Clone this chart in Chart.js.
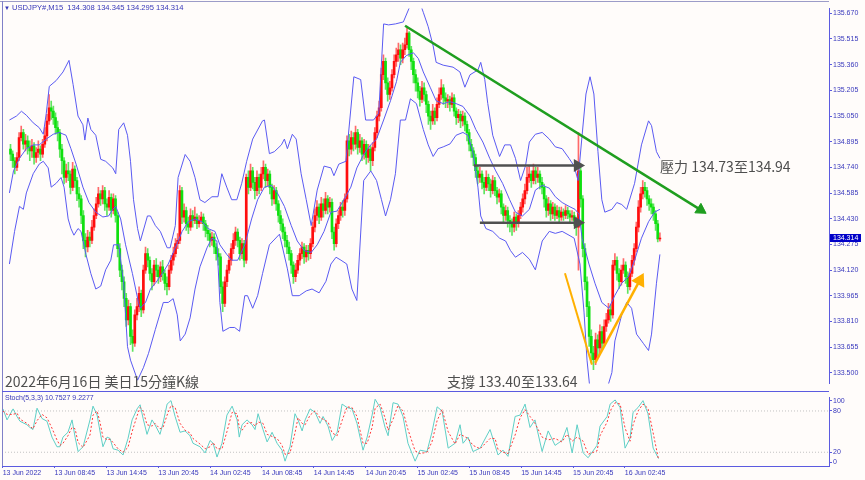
<!DOCTYPE html>
<html><head><meta charset="utf-8">
<script src="https://cdn.jsdelivr.net/npm/chart.js@4.4.0/dist/chart.umd.min.js"></script>
<style>
html,body{margin:0;padding:0;background:#fffcfa;}
#wrap{position:relative;width:865px;height:480px;overflow:hidden;background:#fffcfa;}
canvas{position:absolute;left:0;}
#c1{top:0;}
#c2{top:392px;}
.ln{position:absolute;background:#5b5be0;}
.lbl{position:absolute;white-space:nowrap;font-family:"Liberation Sans",Arial,sans-serif;color:#3636b8;line-height:1;z-index:5;}
.ann{position:absolute;white-space:nowrap;font-family:"Noto Sans CJK TC","Noto Sans",sans-serif;font-size:14px;line-height:14px;color:#4e4e4e;z-index:5;}
</style></head>
<body>
<div id="wrap">
<canvas id="c1" width="865" height="392"></canvas>
<canvas id="c2" width="865" height="88"></canvas>
<div class="ln" style="left:0;top:1px;width:829px;height:1px;background:#9c9cc8"></div>
<div class="ln" style="left:2px;top:1px;width:1px;height:465px;background:#8080c8"></div>
<div class="ln" style="left:2px;top:391px;width:827px;height:1px;"></div>
<div class="lbl" style="left:4px;top:4px;font-size:7.6px;"><span style="font-size:6px">▼</span> USDJPY#,M15&nbsp; 134.308 134.345 134.295 134.314</div>
<div class="lbl" style="left:5px;top:394px;font-size:7px;">Stoch(5,3,3) 10.7527 9.2277</div>
<div class="ann" style="left:660px;top:159px">壓力 134.73至134.94</div>
<div class="ann" style="left:447px;top:374px">支撐 133.40至133.64</div>
<div class="ann" style="left:5px;top:374px">2022年6月16日 美日15分鐘K線</div>
</div>
<script>
// ---------- data ----------
const firstOpen = 134.85;
const closes = [134.82,134.78,134.74,134.80,134.92,134.95,134.88,134.90,134.86,134.84,
134.87,134.80,134.83,134.85,134.82,134.88,134.93,135.02,135.10,135.08,
135.04,134.98,134.95,134.85,134.78,134.68,134.72,134.70,134.62,134.73,
134.66,134.58,134.55,134.45,134.30,134.26,134.32,134.30,134.38,134.45,
134.52,134.58,134.55,134.60,134.52,134.50,134.56,134.48,134.55,134.45,
134.25,134.12,134.05,133.95,133.82,133.90,133.72,133.68,133.85,133.90,
133.98,133.88,134.12,134.22,134.18,134.10,134.05,134.15,134.12,134.08,
134.14,134.10,134.04,134.02,134.12,134.18,134.22,134.28,134.30,134.60,
134.44,134.48,134.40,134.38,134.45,134.42,134.44,134.40,134.42,134.44,
134.40,134.36,134.34,134.30,134.32,134.26,134.22,134.20,134.02,133.92,
134.05,134.12,134.18,134.25,134.30,134.35,134.30,134.22,134.28,134.18,
134.68,134.62,134.72,134.65,134.60,134.68,134.62,134.70,134.74,134.66,
134.70,134.62,134.55,134.60,134.52,134.45,134.40,134.35,134.30,134.26,
134.22,134.15,134.08,134.12,134.18,134.22,134.26,134.20,134.24,134.22,
134.28,134.38,134.45,134.50,134.44,134.52,134.48,134.55,134.50,134.53,
134.35,134.28,134.40,134.45,134.50,134.48,134.55,134.90,134.85,134.92,
134.88,134.95,134.86,134.90,134.82,134.88,134.80,134.85,134.78,134.86,
134.95,135.05,135.10,135.30,135.38,135.25,135.18,135.22,135.30,135.38,
135.42,135.45,135.40,135.45,135.48,135.55,135.45,135.38,135.30,135.25,
135.20,135.15,135.22,135.18,135.12,135.05,135.02,135.08,135.04,135.12,
135.18,135.22,135.16,135.14,135.15,135.12,135.16,135.08,135.04,135.06,
135.02,135.05,135.00,134.95,134.88,134.84,134.80,134.72,134.68,134.70,
134.65,134.62,134.68,134.64,134.60,134.66,134.60,134.56,134.58,134.50,
134.45,134.48,134.42,134.40,134.38,134.44,134.40,134.45,134.50,134.55,
134.60,134.68,134.70,134.66,134.72,134.68,134.70,134.65,134.62,134.55,
134.48,134.52,134.46,134.50,134.45,134.48,134.44,134.47,134.45,134.48,
134.46,134.44,134.45,134.42,134.38,134.72,134.55,134.25,134.05,133.90,
133.72,133.62,133.58,133.70,133.65,133.75,133.68,133.78,133.82,133.88,
133.85,134.15,134.18,134.10,134.05,134.12,134.15,134.08,134.02,134.10,
134.18,134.25,134.38,134.50,134.58,134.62,134.60,134.55,134.52,134.50,
134.46,134.40,134.308,134.314];
const highs = [134.88,134.84,134.80,134.83,134.95,134.99,134.97,134.94,134.93,134.90,
134.91,134.89,134.86,134.90,134.87,134.91,134.98,135.06,135.18,135.14,
135.11,135.07,135.02,134.97,134.88,134.80,134.76,134.77,134.72,134.77,
134.75,134.68,134.62,134.57,134.48,134.34,134.36,134.35,134.42,134.49,
134.56,134.62,134.60,134.63,134.62,134.55,134.60,134.58,134.58,134.57,
134.47,134.28,134.15,134.08,133.98,133.94,133.92,133.76,133.88,133.95,
134.02,134.00,134.15,134.26,134.25,134.20,134.13,134.18,134.19,134.15,
134.17,134.18,134.12,134.08,134.15,134.21,134.26,134.31,134.34,134.63,
134.62,134.52,134.50,134.44,134.49,134.48,134.50,134.46,134.45,134.47,
134.46,134.42,134.39,134.36,134.35,134.34,134.28,134.25,134.22,134.05,
134.08,134.15,134.22,134.28,134.34,134.38,134.37,134.32,134.31,134.30,
134.70,134.72,134.76,134.74,134.68,134.72,134.70,134.74,134.78,134.76,
134.73,134.72,134.64,134.63,134.62,134.54,134.48,134.43,134.38,134.33,
134.29,134.24,134.17,134.16,134.21,134.25,134.29,134.28,134.27,134.27,
134.31,134.41,134.49,134.54,134.52,134.56,134.55,134.59,134.57,134.56,
134.55,134.38,134.43,134.48,134.53,134.54,134.58,134.93,134.94,134.96,
134.95,134.99,134.97,134.94,134.92,134.91,134.90,134.88,134.87,134.89,
134.98,135.08,135.14,135.34,135.42,135.40,135.28,135.26,135.33,135.42,
135.46,135.49,135.48,135.49,135.52,135.58,135.56,135.47,135.40,135.33,
135.28,135.23,135.26,135.25,135.20,135.14,135.08,135.12,135.10,135.16,
135.22,135.27,135.24,135.19,135.18,135.17,135.19,135.18,135.10,135.09,
135.08,135.08,135.07,135.02,134.97,134.91,134.86,134.82,134.75,134.74,
134.72,134.68,134.72,134.70,134.67,134.69,134.68,134.62,134.61,134.60,
134.52,134.51,134.50,134.45,134.43,134.47,134.46,134.48,134.53,134.58,
134.64,134.74,134.75,134.72,134.76,134.74,134.74,134.72,134.68,134.64,
134.57,134.56,134.54,134.53,134.52,134.51,134.50,134.50,134.49,134.51,
134.50,134.48,134.48,134.47,134.44,134.95,134.76,134.57,134.28,134.08,
133.93,133.76,133.66,133.74,133.73,133.79,133.78,133.82,133.86,133.92,
133.91,134.18,134.22,134.20,134.13,134.15,134.19,134.17,134.11,134.13,
134.21,134.28,134.41,134.54,134.62,134.66,134.65,134.62,134.57,134.55,
134.52,134.48,134.42,134.345];
const lows = [134.78,134.74,134.70,134.72,134.78,134.90,134.85,134.84,134.82,134.78,
134.80,134.76,134.77,134.80,134.78,134.80,134.86,134.90,135.00,135.03,
135.00,134.94,134.90,134.80,134.70,134.64,134.65,134.66,134.58,134.60,
134.62,134.54,134.50,134.40,134.25,134.20,134.23,134.26,134.28,134.36,
134.43,134.50,134.51,134.52,134.48,134.45,134.48,134.44,134.46,134.41,
134.20,134.08,134.00,133.90,133.78,133.79,133.67,133.63,133.66,133.82,
133.87,133.84,133.86,134.10,134.14,134.06,134.00,134.03,134.08,134.04,
134.05,134.06,134.00,133.97,134.00,134.10,134.15,134.20,134.25,134.28,
134.40,134.41,134.36,134.34,134.36,134.38,134.40,134.37,134.38,134.40,
134.36,134.32,134.30,134.26,134.27,134.22,134.18,134.15,133.98,133.87,
133.90,134.02,134.10,134.15,134.22,134.27,134.26,134.18,134.19,134.14,
134.16,134.58,134.60,134.61,134.55,134.57,134.58,134.60,134.67,134.62,
134.63,134.58,134.51,134.52,134.48,134.41,134.36,134.31,134.26,134.22,
134.18,134.10,134.04,134.05,134.10,134.15,134.19,134.16,134.17,134.18,
134.19,134.26,134.35,134.42,134.40,134.42,134.44,134.46,134.46,134.47,
134.31,134.24,134.26,134.37,134.42,134.44,134.45,134.53,134.81,134.82,
134.84,134.85,134.82,134.83,134.78,134.79,134.76,134.77,134.72,134.75,
134.84,134.92,135.02,135.08,135.27,135.21,135.14,135.15,135.20,135.28,
135.35,135.38,135.36,135.37,135.42,135.46,135.41,135.33,135.25,135.20,
135.16,135.11,135.13,135.14,135.07,135.00,134.97,135.00,135.00,135.02,
135.10,135.15,135.12,135.10,135.10,135.08,135.10,135.05,135.00,135.01,
134.98,134.99,134.96,134.90,134.84,134.80,134.75,134.68,134.64,134.65,
134.61,134.58,134.60,134.60,134.56,134.58,134.57,134.52,134.53,134.46,
134.40,134.42,134.38,134.35,134.33,134.35,134.36,134.38,134.43,134.47,
134.52,134.58,134.65,134.62,134.64,134.64,134.65,134.61,134.58,134.50,
134.44,134.45,134.42,134.43,134.42,134.43,134.41,134.42,134.42,134.43,
134.43,134.41,134.42,134.39,134.33,134.12,134.50,134.20,134.00,133.84,
133.66,133.56,133.52,133.55,133.60,133.62,133.64,133.66,133.75,133.80,
133.81,133.83,134.12,134.06,134.01,134.03,134.10,134.04,133.98,134.00,
134.08,134.15,134.23,134.35,134.47,134.55,134.56,134.51,134.48,134.46,
134.42,134.36,134.29,134.295];

// band lines: [bar index, price]
const upperBand = [[-0.5,135.026],[2.8,135.050],[5.1,135.079],[7.4,135.055],[10.6,135.009],[13.4,134.980],[15.3,134.940],[16.7,135.067],[18.1,135.229],[21.3,135.264],[24.5,135.316],[27.3,135.386],[29.2,135.241],[31.5,135.050],[33.8,134.997],[34.7,134.905],[36.1,135.038],[37.5,134.969],[39.8,134.934],[42.1,134.789],[44.4,134.777],[47.7,134.737],[49.1,134.702],[50.5,134.969],[52.8,135.009],[54.6,134.934],[56.0,134.777],[57.4,134.545],[59.3,134.371],[60.6,134.296],[63.9,134.447],[65.3,134.447],[67.6,134.389],[69.9,134.354],[73.1,134.255],[74.5,134.255],[76.9,134.389],[78.2,134.679],[81.5,134.818],[83.8,134.777],[86.1,134.679],[88.4,134.545],[90.7,134.528],[94.0,134.563],[96.8,134.563],[98.6,134.702],[100.9,134.621],[103.2,134.545],[105.6,134.545],[107.9,134.644],[110.2,134.777],[113.0,134.911],[117.6,135.021],[118.5,135.026],[120.8,134.823],[123.1,134.835],[126.4,134.876],[127.8,134.911],[129.2,134.853],[131.5,134.940],[133.3,134.911],[135.6,134.702],[138.0,134.545],[140.3,134.389],[143.1,134.603],[146.3,134.748],[149.5,134.737],[150.9,134.690],[153.2,134.760],[156.5,134.777],[160.2,135.287],[163.4,135.270],[165.7,135.026],[169.4,135.026],[171.8,135.067],[174.1,135.606],[176.4,135.600],[179.6,135.606],[183.3,135.618],[186.6,135.720],[190.3,135.760],[192.6,135.676],[194.9,135.589],[197.2,135.473],[198.6,135.374],[201.9,135.357],[206.5,135.345],[209.7,135.316],[212.0,135.224],[214.4,135.299],[218.1,135.328],[219.4,135.374],[221.3,135.270],[222.7,135.125],[225.0,134.934],[228.2,134.806],[230.6,134.876],[233.3,134.876],[235.6,134.795],[238.0,134.661],[240.3,134.750],[242.1,134.893],[244.9,134.940],[248.1,134.951],[251.4,134.911],[254.2,134.864],[257.4,134.853],[260.6,134.795],[263.0,134.748],[264.8,134.661],[266.7,134.934],[268.5,135.183],[270.4,135.287],[272.2,135.183],[274.1,134.835],[275.9,134.545],[277.3,134.470],[280.6,134.487],[282.9,134.528],[285.2,134.516],[287.5,134.487],[291.2,134.644],[294.4,134.876],[297.7,135.021],[299.1,134.992],[301.4,134.835],[303.0,134.795]];
const middleBand = [[-0.5,134.586],[1.4,134.719],[4.2,134.795],[7.4,134.853],[10.6,134.876],[13.4,134.876],[16.7,134.911],[19.9,134.940],[22.7,134.951],[25.9,134.934],[28.2,134.853],[30.6,134.760],[33.8,134.621],[36.6,134.528],[39.8,134.470],[43.1,134.441],[45.8,134.447],[47.7,134.487],[49.1,134.505],[51.4,134.429],[53.7,134.273],[56.9,134.099],[59.7,133.925],[60.6,133.890],[63.0,133.925],[65.3,134.006],[67.6,134.041],[70.8,134.099],[73.6,134.157],[76.9,134.255],[80.1,134.354],[82.9,134.412],[86.1,134.429],[89.4,134.412],[92.1,134.371],[95.4,134.354],[97.7,134.273],[100.9,134.215],[103.2,134.180],[106.0,134.180],[109.3,134.273],[112.5,134.429],[115.3,134.545],[118.5,134.621],[121.8,134.632],[124.5,134.586],[127.8,134.505],[131.0,134.389],[133.8,134.296],[137.0,134.238],[140.3,134.227],[143.1,134.273],[146.3,134.354],[149.5,134.470],[152.3,134.476],[155.6,134.545],[158.8,134.621],[161.6,134.737],[164.8,134.818],[168.1,134.876],[170.8,134.911],[174.1,135.026],[177.3,135.142],[180.1,135.258],[181.9,135.374],[184.7,135.415],[188.0,135.432],[190.3,135.397],[192.6,135.316],[195.8,135.224],[198.6,135.142],[201.9,135.125],[205.1,135.137],[207.9,135.125],[211.1,135.108],[214.4,135.050],[217.1,134.969],[220.4,134.893],[223.6,134.795],[226.4,134.719],[229.6,134.644],[232.9,134.545],[235.6,134.470],[238.9,134.447],[242.1,134.487],[244.9,134.603],[248.1,134.632],[251.4,134.615],[254.2,134.563],[257.4,134.528],[260.6,134.505],[263.4,134.487],[265.3,134.458],[266.7,134.313],[269.9,134.157],[272.7,134.041],[275.9,133.925],[279.2,133.890],[281.9,133.966],[285.2,134.041],[288.4,134.082],[291.2,134.180],[294.4,134.313],[297.7,134.412],[300.5,134.470],[303.0,134.487]];
const lowerBand = [[-0.5,134.157],[1.9,134.354],[4.2,134.505],[6.0,134.487],[7.4,134.586],[10.6,134.702],[13.4,134.760],[15.3,134.777],[17.6,134.737],[19.0,134.621],[21.3,134.644],[23.6,134.679],[25.0,134.621],[26.9,134.429],[28.2,134.371],[29.6,134.331],[31.5,134.371],[32.9,134.354],[35.2,134.215],[37.5,134.099],[39.8,134.006],[42.1,134.024],[44.4,134.122],[46.8,134.180],[48.1,134.273],[50.5,134.273],[52.8,134.041],[54.6,133.658],[56.0,133.577],[59.3,133.456],[62.0,133.531],[64.4,133.618],[67.6,133.763],[71.3,133.925],[73.6,133.925],[75.9,133.948],[77.8,133.850],[79.2,133.693],[81.5,133.734],[83.8,133.832],[86.1,134.006],[88.4,134.140],[91.7,134.255],[94.0,134.313],[96.3,134.296],[97.7,133.925],[99.1,133.751],[102.3,133.774],[104.6,133.774],[106.9,133.751],[109.3,133.966],[110.6,133.966],[113.0,133.890],[115.3,133.966],[117.6,134.099],[120.8,134.273],[125.5,134.337],[129.2,134.128],[131.5,133.966],[134.7,133.966],[138.0,133.995],[140.7,134.006],[144.0,133.983],[147.2,134.053],[149.5,134.157],[151.9,134.198],[154.2,134.180],[156.9,134.157],[159.3,134.006],[161.6,133.937],[164.8,134.661],[168.1,134.719],[170.8,134.661],[173.1,134.545],[175.0,134.447],[177.3,134.545],[179.6,134.702],[181.9,135.026],[184.3,135.026],[186.6,135.154],[189.4,135.125],[192.6,134.969],[194.9,134.876],[197.2,134.806],[199.5,134.853],[201.9,134.864],[205.1,134.882],[207.9,134.934],[211.1,134.951],[213.4,134.934],[215.7,134.835],[218.1,134.621],[219.4,134.447],[221.8,134.371],[225.0,134.354],[228.2,134.313],[231.0,134.296],[233.3,134.238],[235.6,134.198],[238.9,134.227],[242.1,134.186],[244.9,134.122],[248.1,134.296],[251.4,134.354],[254.2,134.342],[257.4,134.354],[260.6,134.331],[263.0,134.313],[265.7,134.157],[267.6,133.867],[269.0,133.577],[270.4,133.398],[278.2,133.398],[280.6,133.502],[282.0,133.693],[285.2,133.850],[287.5,133.925],[289.8,133.890],[292.1,133.734],[295.4,133.676],[297.7,133.635],[299.1,133.734],[301.4,134.041],[303.0,134.215]];

// stochastic %K / %D (bar index positions)
const stochX = [-0.5,1.4,4.2,6.0,7.4,10.6,12.0,13.4,15.3,17.6,19.9,22.2,24.5,25.9,27.3,29.6,31.5,32.9,34.3,36.6,39.8,41.2,43.1,44.4,45.8,47.7,49.1,50.5,52.8,55.1,57.4,59.3,61.6,63.0,64.4,66.2,68.5,69.9,72.2,73.6,75.5,77.3,79.2,81.5,83.8,86.1,87.5,90.7,93.1,95.4,96.8,98.6,100.9,103.2,105.6,107.9,108.9,110.2,112.5,114.8,116.2,117.6,119.9,121.8,124.1,126.4,128.7,130.1,132.4,134.7,136.1,138.0,139.4,141.7,144.0,146.3,147.7,150.0,151.9,154.2,156.5,158.8,161.1,163.4,164.8,166.2,168.1,170.4,171.8,174.1,176.4,177.8,180.1,182.4,184.7,187.0,190.3,192.6,195.8,198.1,200.5,202.8,205.6,208.8,211.1,212.5,214.8,217.1,220.4,225.0,227.3,228.7,231.0,233.3,236.6,238.9,241.2,243.5,245.8,249.1,251.9,255.1,258.3,260.6,263.0,265.3,268.1,270.4,274.5,275.9,279.2,280.6,282.9,285.2,287.5,289.8,291.2,293.5,295.8,298.1,300.5,303.0];
const stochK = [83,67,83,72,65,60,56,53,84,69,65,42,28,28,42,49,67,42,21,28,67,87,74,51,28,42,40,25,23,16,40,67,83,89,69,46,67,60,46,62,90,95,72,49,51,44,33,28,19,37,33,13,33,74,87,67,42,60,67,60,53,76,53,35,49,33,23,7,28,76,67,51,67,83,78,62,72,58,37,49,90,85,83,62,42,23,42,74,97,85,56,44,92,90,72,33,7,23,21,49,86,80,26,33,60,33,42,21,26,53,30,16,23,14,72,74,90,56,67,21,51,30,37,56,19,60,19,12,30,58,72,90,96,85,26,40,78,85,95,76,26,10.7527];
const stochD = [80,75,75,77,68,62,58,54,66,75,70,55,38,30,33,44,56,54,34,27,45,74,80,64,42,38,39,34,25,20,27,50,73,85,80,60,58,62,54,56,74,88,85,62,52,48,40,32,25,28,34,25,25,50,78,76,56,52,62,63,58,64,62,46,43,40,30,17,19,48,70,62,60,74,80,70,68,64,48,44,66,86,85,72,52,33,33,56,84,90,70,52,68,88,80,53,22,18,20,35,66,82,50,32,46,44,40,30,25,40,40,24,20,18,45,70,82,72,62,42,38,40,35,46,36,42,36,17,22,44,64,80,92,90,55,36,60,80,90,84,48,9.2277];
const stochLevels = [20, 80];

// drawn lines [bar index, price]
const greenTrend = [[184.1,135.595],[322.0,134.484]];
const resistArrow = [[216.2,134.752],[264.6,134.752]];
const supportArrow = [[219.0,134.406],[264.6,134.406]];
const orangeLeft = [[258.7,134.101],[271.3,133.550]];
const orangeRight = [[272.8,133.560],[293.6,134.058]];

// axes
const priceTicks = [135.670,135.515,135.360,135.205,135.050,134.895,134.740,134.585,134.430,134.275,134.120,133.965,133.810,133.655,133.500];
const timeTickPos = [-0.6,23.4,47.4,71.4,95.4,119.4,143.4,167.4,191.4,215.4,239.4,263.4,287.4];
const timeLabels = ['13 Jun 2022','13 Jun 08:45','13 Jun 14:45','13 Jun 20:45','14 Jun 02:45','14 Jun 08:45','14 Jun 14:45','14 Jun 20:45','15 Jun 02:45','15 Jun 08:45','15 Jun 14:45','15 Jun 20:45','16 Jun 02:45'];
const stochTickPos = [5.4, 20, 80, 94.6];
const stochTickLabels = ['0','20','80','100'];
const xRange = [-0.93, 381.9];
const priceRange = [133.436, 135.699];

// ---------- chart ----------
Chart.defaults.font.family = '"Liberation Sans", Arial, sans-serif';
const AXIS_TXT = '#3838bc';
const AXIS_LINE = '#5b5be0';
const BAND = '#5a5af2';

const opens = closes.map((c,i)=> i===0 ? firstOpen : closes[i-1]);
const isUp = closes.map((c,i)=> c >= opens[i]);
const pts = arr => arr.map(p=>({x:p[0], y:p[1]}));

const lastPrice = {
  id:'lastPrice',
  afterDraw(chart){
    const v = closes[closes.length-1];
    const y = chart.scales.y.getPixelForValue(v);
    const x = chart.chartArea.right + 1;
    const ctx = chart.ctx;
    ctx.save();
    ctx.fillStyle = '#0000c8';
    ctx.fillRect(x, Math.round(y)-4, 31, 8);
    ctx.fillStyle = '#ffffff';
    ctx.font = '7px "Liberation Sans"';
    ctx.textBaseline = 'middle';
    ctx.fillText(v.toFixed(3), x+3, Math.round(y)+0.5);
    ctx.restore();
  }
};

const lineDs = (arr, color, width, extra) => Object.assign({
  type:'line', data: pts(arr), borderColor: color, borderWidth: width,
  pointRadius: 0, tension: 0, fill:false, order: 0
}, extra||{});

new Chart(document.getElementById('c1'), {
  type:'bar',
  data:{datasets:[
    {type:'bar', data: closes.map((c,i)=>({x:i, y:[lows[i], highs[i]]})),
      backgroundColor: isUp.map(u=>u?'#ff6a6a':'#5fe45f'), barThickness:1, grouped:false, order:4},
    {type:'bar', data: closes.map((c,i)=>({x:i, y:[opens[i], c]})),
      backgroundColor: isUp.map(u=>u?'#ff0d0d':'#0fe00f'), barThickness:2, grouped:false, order:3},
    lineDs(upperBand, BAND, 1, {order:2}),
    lineDs(middleBand, BAND, 1, {order:2}),
    lineDs(lowerBand, BAND, 1, {order:2}),
    lineDs(greenTrend, '#1f9e1f', 2.5, {pointRadius:[0,6.5], pointStyle:'triangle', pointRotation:[0,122.7], pointBackgroundColor:'#1f9e1f', pointBorderColor:'#1f9e1f', pointBorderWidth:1}),
    lineDs(resistArrow, '#505050', 2.5, {pointRadius:[0,5], pointStyle:'triangle', pointRotation:[0,90], pointBackgroundColor:'#505050', pointBorderColor:'#505050'}),
    lineDs(supportArrow, '#505050', 2.5, {pointRadius:[0,5], pointStyle:'triangle', pointRotation:[0,90], pointBackgroundColor:'#505050', pointBorderColor:'#505050'}),
    lineDs(orangeLeft, '#ffb000', 2),
    lineDs(orangeRight, '#ffb000', 2.5, {pointRadius:[0,6], pointStyle:'triangle', pointRotation:[0,28], pointBackgroundColor:'#ffb000', pointBorderColor:'#ffb000'})
  ]},
  options:{
    responsive:false, maintainAspectRatio:false, devicePixelRatio:1, animation:false,
    layout:{padding:{left:2, top:1, right:0, bottom:1}},
    plugins:{legend:{display:false}, tooltip:{enabled:false}},
    scales:{
      x:{type:'linear', min:xRange[0], max:xRange[1], offset:false, display:false},
      y:{position:'right', min:priceRange[0], max:priceRange[1],
        afterBuildTicks: s => { s.ticks = priceTicks.map(v=>({value:v})); },
        afterFit: s => { s.width = 36; },
        ticks:{autoSkip:false, callback: v => Number(v).toFixed(3), color:AXIS_TXT, font:{size:7}, padding:1},
        grid:{drawOnChartArea:false, drawTicks:true, tickLength:3, color:AXIS_LINE},
        border:{display:true, color:AXIS_LINE, width:1}}
    }
  },
  plugins:[lastPrice]
});

new Chart(document.getElementById('c2'), {
  type:'line',
  data:{datasets:[
    {data: [{x:xRange[0], y:stochLevels[1]},{x:xRange[1], y:stochLevels[1]}], borderColor:'#c2c2c2', borderWidth:1, borderDash:[1,2], pointRadius:0, order:3},
    {data: [{x:xRange[0], y:stochLevels[0]},{x:xRange[1], y:stochLevels[0]}], borderColor:'#c2c2c2', borderWidth:1, borderDash:[1,2], pointRadius:0, order:3},
    {data: stochX.map((x,i)=>({x, y:stochK[i]})), borderColor:'#5fcfc6', borderWidth:1, pointRadius:0, tension:0, order:2},
    {data: stochX.map((x,i)=>({x, y:stochD[i]})), borderColor:'#ff3a3a', borderWidth:1, borderDash:[2,2], pointRadius:0, tension:0, order:1}
  ]},
  options:{
    responsive:false, maintainAspectRatio:false, devicePixelRatio:1, animation:false,
    layout:{padding:{left:2, top:1, right:0, bottom:0}},
    plugins:{legend:{display:false}, tooltip:{enabled:false}},
    scales:{
      x:{type:'linear', min:xRange[0], max:xRange[1], offset:false,
        afterBuildTicks: s => { s.ticks = timeTickPos.map(v=>({value:v})); },
        afterFit: s => { s.height = 14; },
        ticks:{autoSkip:false, maxRotation:0, minRotation:0, align:'start', callback:(v,i)=>timeLabels[i], color:AXIS_TXT, font:{size:7}, padding:1},
        grid:{drawOnChartArea:false, drawTicks:true, tickLength:2, color:AXIS_LINE},
        border:{display:true, color:AXIS_LINE, width:1}},
      y:{position:'right', min:0, max:100,
        afterBuildTicks: s => { s.ticks = stochTickPos.map(v=>({value:v})); },
        afterFit: s => { s.width = 36; },
        ticks:{autoSkip:false, callback:(v,i)=>stochTickLabels[i], color:AXIS_TXT, font:{size:7}, padding:1},
        grid:{drawOnChartArea:false, drawTicks:true, tickLength:3, color:AXIS_LINE},
        border:{display:true, color:AXIS_LINE, width:1}}
    }
  }
});
</script>
</body></html>
